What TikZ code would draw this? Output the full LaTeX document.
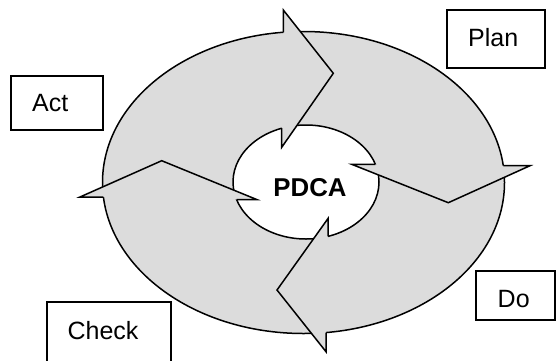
\documentclass[tikz,border=0pt]{standalone}
\usepackage{fontspec}
\setmainfont{Liberation Sans}
\usetikzlibrary{intersections}
\definecolor{ringgray}{RGB}{220,220,220}
\begin{document}
\begin{tikzpicture}[x=1pt,y=-1pt, line join=miter,
  outline/.style={draw=black, line width=1.5pt},
  boxframe/.style={draw=black, line width=1.8pt},
  labeltext/.style={font=\fontsize{25}{30}\selectfont, inner sep=0pt, anchor=base west},
  centertext/.style={font=\fontsize{25.8}{30}\selectfont\bfseries, inner sep=0pt, anchor=base}]
\useasboundingbox (0,0) rectangle (556,360);
\fill[white] (0,0) rectangle (556,360);
% ring
\fill[ringgray, even odd rule] (303.5,182.5) ellipse [x radius=201, y radius=151]
      (306,182) ellipse [x radius=73, y radius=57];
\draw[outline, name path=outer] (303.5,182.5) ellipse [x radius=201, y radius=151];
\draw[outline, name path=inner] (306,182) ellipse [x radius=73, y radius=57];
% helper lines for barb backs
\path[name path=tA] (283.3,10) -- (283.3,80);
\path[name path=tB] (281.7,147.3) -- (281.7,95);
\path[name path=rA] (530,165.7) -- (460,165.7);
\path[name path=rB] (351.7,164.3) -- (420,164.3);
\path[name path=bA] (326,351.7) -- (326,290);
\path[name path=bB] (328,218.5) -- (328,270);
\path[name path=lA] (80,197) -- (150,197);
\path[name path=lB] (256.7,199.5) -- (190,199.5);
\path[name intersections={of=outer and tA, by=tO}];
\path[name intersections={of=inner and tB, by=tI}];
\path[name intersections={of=outer and rA, by=rO}];
\path[name intersections={of=inner and rB, by=rI}];
\path[name intersections={of=outer and bA, by=bO}];
\path[name intersections={of=inner and bB, by=bI}];
\path[name intersections={of=outer and lA, by=lO}];
\path[name intersections={of=inner and lB, by=lI}];
% arrow heads
\coordinate (tbo) at (283.3,10);  \coordinate (ttip) at (333.3,73.3);  \coordinate (tbi) at (281.7,147.3);
\coordinate (rbi) at (351.7,164.3); \coordinate (rtip) at (448.3,202.7); \coordinate (rbo) at (530,165.7);
\coordinate (bbo) at (326,351.7); \coordinate (btip) at (277,290);   \coordinate (bbi) at (328,218.5);
\coordinate (lbo) at (80,197);    \coordinate (ltip) at (161.7,160.7); \coordinate (lbi) at (256.7,199.5);
\fill[ringgray] (tO) -- (tbo) -- (ttip) -- (tbi) -- (tI) -- cycle;
\draw[outline] (tO) -- (tbo) -- (ttip) -- (tbi) -- (tI);
\fill[ringgray] (rI) -- (rbi) -- (rtip) -- (rbo) -- (rO) -- cycle;
\draw[outline] (rI) -- (rbi) -- (rtip) -- (rbo) -- (rO);
\fill[ringgray] (bO) -- (bbo) -- (btip) -- (bbi) -- (bI) -- cycle;
\draw[outline] (bO) -- (bbo) -- (btip) -- (bbi) -- (bI);
\fill[ringgray] (lO) -- (lbo) -- (ltip) -- (lbi) -- (lI) -- cycle;
\draw[outline] (lO) -- (lbo) -- (ltip) -- (lbi) -- (lI);
% centre text
\node[centertext] (pdca) at (310,196.7) {PDCA};
% label boxes
\draw[boxframe] (446.8,10) rectangle (545,67.7);
\node[labeltext] (plan) at (468,46.3) {Plan};
\draw[boxframe] (10.6,76) rectangle (102.8,130);
\node[labeltext] (act) at (31.9,111.5) {Act};
\draw[boxframe] (47.2,301.7) rectangle (171,370);
\node[labeltext] (check) at (67.4,339) {Check};
\draw[boxframe] (476,270.7) rectangle (555,320);
\node[labeltext] (do) at (497.5,307.5) {Do};
\end{tikzpicture}
\end{document}
